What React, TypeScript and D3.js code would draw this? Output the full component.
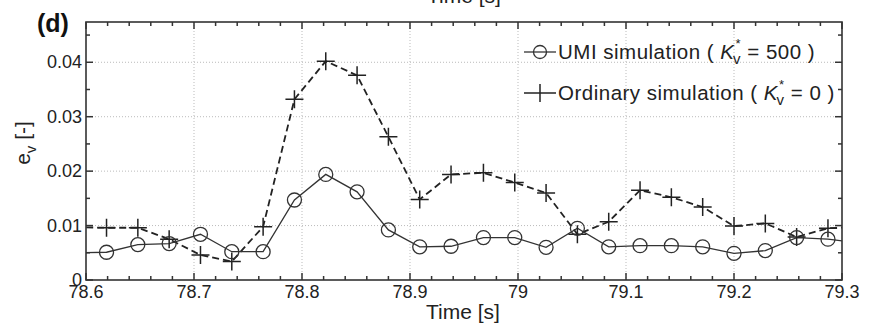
import React from "react";
import * as d3 from "d3";

const times = [78.590, 78.619, 78.648, 78.677, 78.706, 78.735, 78.764, 78.793, 78.822, 78.851, 78.880, 78.909, 78.938, 78.968, 78.997, 79.026, 79.055, 79.084, 79.113, 79.142, 79.171, 79.200, 79.229, 79.258, 79.287, 79.316];
const umi = [0.0050, 0.0051, 0.0065, 0.0067, 0.0084, 0.0052, 0.0052, 0.0147, 0.0194, 0.0162, 0.0092, 0.0061, 0.0062, 0.0078, 0.0078, 0.0060, 0.0095, 0.0061, 0.0063, 0.0063, 0.0061, 0.0049, 0.0054, 0.0078, 0.0075, 0.0068];
const ordinary = [0.0097, 0.0096, 0.0096, 0.0075, 0.0046, 0.0034, 0.0098, 0.0332, 0.0402, 0.0376, 0.0263, 0.0148, 0.0194, 0.0197, 0.0179, 0.0160, 0.0084, 0.0107, 0.0165, 0.0152, 0.0134, 0.0099, 0.0104, 0.0079, 0.0095, 0.0098];
const xTicks = [78.6, 78.7, 78.8, 78.9, 79, 79.1, 79.2, 79.3];
const xTickLabels = ["78.6", "78.7", "78.8", "78.9", "79", "79.1", "79.2", "79.3"];
const yTicks = [0, 0.01, 0.02, 0.03, 0.04];
const yTickLabels = ["0", "0.01", "0.02", "0.03", "0.04"];

const W = 873, H = 325;
const L = 86, R = 842, T = 22, B = 280;
const FONT = "'Liberation Sans', Arial, sans-serif";

export default function App() {
  const x = d3.scaleLinear().domain([78.6, 79.3]).range([L, R]);
  const y = d3.scaleLinear().domain([0, 0.0474]).range([B, T]);
  const pts = (vals: number[]) => times.map((t, i) => [t, vals[i]] as [number, number]);
  const line = d3.line<[number, number]>().x(d => x(d[0])).y(d => y(d[1]));
  const xMinor = d3.range(0, 36).map(i => 78.6 + i * 0.02).filter(v => v <= 79.3001);
  const yMinor = d3.range(0, 10).map(i => i * 0.005).filter(v => v <= 0.0474);
  const inside = (t: number) => t >= 78.6 && t <= 79.3;

  return (
    <svg width={W} height={H} style={{ position: "fixed", left: 0, top: 0, background: "#fff" }} fontFamily={FONT}>
      <rect x={0} y={0} width={W} height={H} fill="#fff" />
      <defs>
        <clipPath id="plotclip">
          <rect x={L} y={T} width={R - L} height={B - T} />
        </clipPath>
      </defs>
      {/* cut-off title from previous panel */}
      <text x={464} y={3} fontSize={21} textAnchor="middle" fill="#222">Time [s]</text>

      {/* grid */}
      {xTicks.slice(1, -1).map(v => (
        <line key={"gx" + v} x1={x(v)} x2={x(v)} y1={T} y2={B} stroke="#bbb" strokeWidth={1} strokeDasharray="1,2" />
      ))}
      {yTicks.slice(1).map(v => (
        <line key={"gy" + v} x1={L} x2={R} y1={y(v)} y2={y(v)} stroke="#bbb" strokeWidth={1} strokeDasharray="1,2" />
      ))}

      {/* ticks */}
      {xMinor.map((v, i) => {
        const major = i % 5 === 0;
        const len = major ? 7 : 4;
        return (
          <g key={"xt" + i}>
            <line x1={x(v)} x2={x(v)} y1={B} y2={B - len} stroke="#333" strokeWidth={1.5} />
            <line x1={x(v)} x2={x(v)} y1={T} y2={T + len} stroke="#333" strokeWidth={1.5} />
          </g>
        );
      })}
      {yMinor.map((v, i) => {
        const major = i % 2 === 0;
        const len = major ? 7 : 4;
        return (
          <g key={"yt" + i}>
            <line x1={L} x2={L + len} y1={y(v)} y2={y(v)} stroke="#333" strokeWidth={1.5} />
            <line x1={R} x2={R - len} y1={y(v)} y2={y(v)} stroke="#333" strokeWidth={1.5} />
          </g>
        );
      })}

      {/* series */}
      <g clipPath="url(#plotclip)">
        <path d={line(pts(ordinary)) || ""} fill="none" stroke="#222" strokeWidth={1.8} strokeDasharray="7,4" />
        <path d={line(pts(umi)) || ""} fill="none" stroke="#333" strokeWidth={1.3} />
        {pts(ordinary).filter(d => inside(d[0])).map((d, i) => (
          <path key={"c" + i} d={`M${x(d[0]) - 9},${y(d[1])}H${x(d[0]) + 9}M${x(d[0])},${y(d[1]) - 9}V${y(d[1]) + 9}`} stroke="#222" strokeWidth={1.5} fill="none" />
        ))}
        {pts(umi).filter(d => inside(d[0])).map((d, i) => (
          <circle key={"o" + i} cx={x(d[0])} cy={y(d[1])} r={7} fill="none" stroke="#333" strokeWidth={1.3} />
        ))}
      </g>

      {/* axes box */}
      <rect x={L} y={T} width={R - L} height={B - T} fill="none" stroke="#333" strokeWidth={1.6} />

      {/* tick labels */}
      {xTicks.map((v, i) => (
        <text key={"xl" + v} x={x(v)} y={298} fontSize={18} textAnchor="middle" fill="#222">{xTickLabels[i]}</text>
      ))}
      {yTicks.map((v, i) => (
        <text key={"yl" + v} x={82} y={y(v) + 6} fontSize={18} textAnchor="end" fill="#222">{yTickLabels[i]}</text>
      ))}

      {/* axis labels */}
      <text x={463} y={319} fontSize={21} textAnchor="middle" fill="#222">Time [s]</text>
      <text transform="translate(30,143) rotate(-90)" fontSize={21} textAnchor="middle" fill="#222">
        e<tspan fontSize={15} dy={6}>v</tspan><tspan dy={-6}> [-]</tspan>
      </text>
      <text x={37} y={32} fontSize={25} fontWeight="bold" fill="#111">(d)</text>

      {/* legend */}
      <g>
        <line x1={524} x2={556} y1={52} y2={52} stroke="#333" strokeWidth={1.3} />
        <circle cx={540} cy={52} r={6.5} fill="none" stroke="#333" strokeWidth={1.3} />
        <text x={558} y={59} fontSize={20.5} letterSpacing={0.5} fill="#222">
          UMI simulation ( <tspan fontStyle="italic">K</tspan><tspan fontSize={13} dy={-11} dx={1}>*</tspan><tspan fontSize={15} dx={-8} dy={16}>v</tspan><tspan dy={-5}> = 500 )</tspan>
        </text>
        <line x1={524} x2={556} y1={93} y2={93} stroke="#222" strokeWidth={1.5} />
        <line x1={540} x2={540} y1={84} y2={102} stroke="#222" strokeWidth={1.5} />
        <text x={558} y={100} fontSize={20.5} letterSpacing={0.5} fill="#222">
          Ordinary simulation ( <tspan fontStyle="italic">K</tspan><tspan fontSize={13} dy={-11} dx={1}>*</tspan><tspan fontSize={15} dx={-8} dy={16}>v</tspan><tspan dy={-5}> = 0 )</tspan>
        </text>
      </g>
    </svg>
  );
}
